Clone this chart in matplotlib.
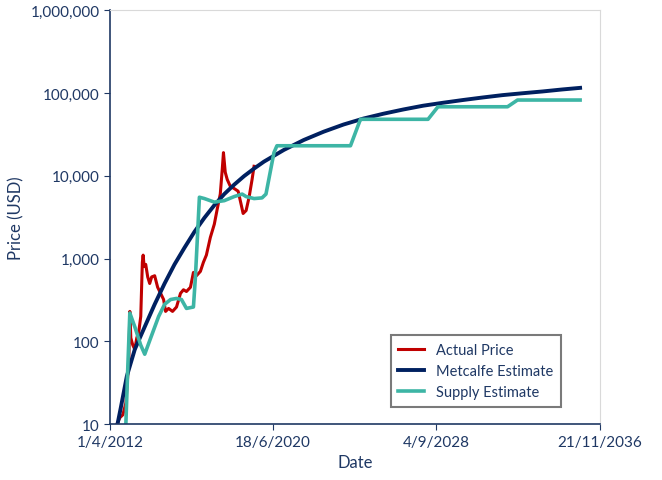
import datetime as dt

import matplotlib.pyplot as plt
import matplotlib.dates as mdates
from matplotlib.ticker import FuncFormatter

# decimal years
actual_x = [2012.45, 2012.6, 2012.75, 2012.9, 2013.05, 2013.2, 2013.25, 2013.3, 2013.4, 2013.5,
            2013.6, 2013.7, 2013.8, 2013.88, 2013.92, 2013.97, 2014.05, 2014.15, 2014.25, 2014.35,
            2014.5, 2014.65, 2014.8, 2014.95, 2015.05, 2015.2, 2015.4, 2015.6, 2015.8, 2015.95,
            2016.1, 2016.3, 2016.45, 2016.6, 2016.8, 2016.95, 2017.1, 2017.3, 2017.5, 2017.65,
            2017.8, 2017.9, 2017.96, 2018.05, 2018.15, 2018.3, 2018.5, 2018.7, 2018.85, 2018.95,
            2019.1, 2019.25, 2019.4, 2019.5]
actual_y = [7, 10, 12, 13, 18, 60, 230, 110, 90, 80,
            110, 130, 200, 900, 1100, 800, 850, 600, 500, 600,
            620, 450, 380, 320, 230, 250, 230, 260, 380, 420,
            400, 450, 680, 620, 700, 900, 1100, 1800, 2600, 4000,
            6000, 12000, 19000, 11000, 9000, 7500, 7000, 6500, 4500, 3500,
            3800, 5500, 9000, 13000]

metcalfe_x = [2012.55, 2012.8, 2013.1, 2013.5, 2014.0, 2014.5, 2015.0, 2015.5, 2016.0, 2016.5,
              2017.0, 2017.5, 2018.0, 2018.5, 2019.0, 2019.5, 2020.0, 2021.0, 2022.0, 2023.0,
              2024.0, 2025.0, 2026.0, 2027.0, 2028.0, 2029.0, 2030.0, 2031.0, 2032.0, 2033.0,
              2034.0, 2035.0, 2035.9]
metcalfe_y = [8, 16, 38, 80, 150, 280, 500, 850, 1350, 2100,
              3100, 4400, 6000, 7800, 9900, 12200, 14800, 20500, 27000, 34000,
              41500, 49000, 56000, 63000, 70000, 76000, 82000, 88000, 94000, 99000,
              104000, 110000, 115000]

supply_x = [2013.05, 2013.15, 2013.25, 2013.5, 2013.8, 2014.0, 2014.3, 2014.7, 2015.0, 2015.3,
            2015.6, 2015.85, 2016.1, 2016.45, 2016.55, 2016.75, 2017.0, 2017.5, 2018.0, 2018.5,
            2018.9, 2019.1, 2019.5, 2019.9, 2020.1, 2020.5, 2020.65, 2024.35, 2024.85, 2028.25,
            2028.75, 2032.25, 2032.75, 2035.9]
supply_y = [10, 50, 220, 150, 90, 70, 110, 200, 280, 320,
            330, 320, 250, 260, 600, 5500, 5300, 4800, 5000, 5600,
            6000, 5600, 5300, 5400, 6000, 19000, 23000, 23000, 48000, 48000,
            68000, 68000, 82000, 82000]

x_ticks = [dt.date(2012, 4, 1), dt.date(2020, 6, 18), dt.date(2028, 9, 4), dt.date(2036, 11, 21)]
x_tick_labels = ["1/4/2012", "18/6/2020", "4/9/2028", "21/11/2036"]


def to_date(year):
    y = int(year)
    start = dt.datetime(y, 1, 1)
    return start + (dt.datetime(y + 1, 1, 1) - start) * (year - y)


plt.rcParams["font.family"] = "Lato"
TXT = "#1F3864"

fig = plt.figure(figsize=(6.62, 4.81), dpi=100)
ax = fig.add_axes([0.166, 0.116, 0.74, 0.861])

ax.plot([to_date(v) for v in actual_x], actual_y, color="#C00000", lw=2.2, label="Actual Price")
ax.plot([to_date(v) for v in metcalfe_x], metcalfe_y, color="#002060", lw=2.8, label="Metcalfe Estimate")
ax.plot([to_date(v) for v in supply_x], supply_y, color="#3DB5A5", lw=2.6, label="Supply Estimate")

ax.set_yscale("log")
ax.set_ylim(10, 1e6)
ax.yaxis.set_major_formatter(FuncFormatter(lambda v, p: f"{v:,.0f}"))
ax.minorticks_off()
ax.set_xlim(mdates.date2num(x_ticks[0]), mdates.date2num(x_ticks[-1]))
ax.set_xticks([mdates.date2num(d) for d in x_ticks])
ax.set_xticklabels(x_tick_labels)
ax.tick_params(colors=TXT, labelsize=11, direction="out", length=4)
for side in ("top", "right"):
    ax.spines[side].set_color("#D9D9D9")
for side in ("left", "bottom"):
    ax.spines[side].set_color("#1F3864")
    ax.spines[side].set_linewidth(1.2)
ax.set_xlabel("Date", color=TXT, fontsize=12)
ax.set_ylabel("Price (USD)", color=TXT, fontsize=12)

leg = ax.legend(loc="lower right", bbox_to_anchor=(0.935, 0.025), fancybox=False,
                edgecolor="#595959", fontsize=10.5, handlelength=1.8, borderpad=0.5)
leg.get_frame().set_linewidth(1.5)
for t in leg.get_texts():
    t.set_color(TXT)

fig.savefig("out.png", dpi=100)
